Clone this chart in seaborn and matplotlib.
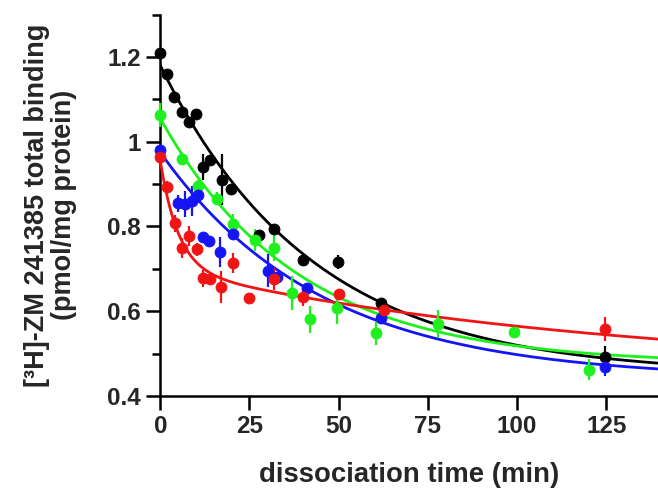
import numpy as np
import pandas as pd
import matplotlib
matplotlib.use("Agg")
import matplotlib.pyplot as plt
import seaborn as sns
from matplotlib.ticker import FixedLocator

# ---- data ----
black_t = [0, 1.8, 3.8, 6, 8, 10.1, 11.9, 13.8, 17.2, 19.8, 27.6, 31.9, 40, 49.8, 61.8, 124.6]
black_y = [1.209, 1.159, 1.106, 1.071, 1.047, 1.065, 0.94, 0.958, 0.91, 0.888, 0.78, 0.795, 0.722, 0.716, 0.62, 0.492]
black_e = [0.01, 0.01, 0.01, 0.01, 0.01, 0.01, 0.03, 0.01, 0.06, 0.01, 0.01, 0.01, 0.01, 0.016, 0.01, 0.027]

green_t = [0, 6, 10.5, 16, 20.3, 26.6, 32, 36.8, 42.1, 49.6, 60.4, 77.8, 99, 120.2]
green_y = [1.063, 0.959, 0.895, 0.866, 0.805, 0.767, 0.749, 0.643, 0.581, 0.607, 0.549, 0.57, 0.551, 0.462]
green_e = [0.028, 0.01, 0.015, 0.015, 0.025, 0.026, 0.03, 0.04, 0.032, 0.037, 0.028, 0.033, 0.01, 0.025]

blue_t = [0, 5, 7, 9, 10.5, 11.9, 13.6, 16.7, 20.3, 30.3, 32.6, 41, 61.8, 124.6]
blue_y = [0.98, 0.855, 0.853, 0.86, 0.875, 0.775, 0.766, 0.74, 0.783, 0.696, 0.681, 0.654, 0.584, 0.468]
blue_e = [0.01, 0.02, 0.03, 0.035, 0.02, 0.01, 0.01, 0.035, 0.016, 0.04, 0.01, 0.01, 0.015, 0.02]

red_t = [0, 2, 4, 6, 8, 10.2, 12, 14, 16.9, 20.3, 25, 32, 40, 50, 62.6, 124.6]
red_y = [0.965, 0.893, 0.808, 0.749, 0.778, 0.746, 0.678, 0.676, 0.657, 0.714, 0.632, 0.675, 0.633, 0.641, 0.603, 0.558]
red_e = [0.01, 0.015, 0.02, 0.023, 0.023, 0.015, 0.02, 0.01, 0.038, 0.024, 0.0, 0.026, 0.02, 0.01, 0.01, 0.028]

# fitted decay parameters: plateau, fast amplitude, fast rate, slow amplitude, slow rate
black_fit = [0.45, 0.0, 0.0, 0.73, 0.0235]
green_fit = [0.475, 0.0, 0.0, 0.58, 0.026]
blue_fit = [0.44, 0.0, 0.0, 0.535, 0.0223]
red_fit = [0.45, 0.255, 0.198, 0.25, 0.0078]

x_ticks = [0, 25, 50, 75, 100, 125]
y_ticks = [0.4, 0.6, 0.8, 1.0, 1.2]
y_tick_labels = ["0.4", "0.6", "0.8", "1", "1.2"]
y_minor = [0.5, 0.7, 0.9, 1.1, 1.3]

series = [
    ("black", black_t, black_y, black_e, black_fit, "#000000"),
    ("green", green_t, green_y, green_e, green_fit, "#1ef01e"),
    ("blue", blue_t, blue_y, blue_e, blue_fit, "#1414f5"),
    ("red", red_t, red_y, red_e, red_fit, "#f01414"),
]

sns.set_style("ticks")
plt.rcParams['font.family'] = ['Liberation Sans', 'DejaVu Sans']
plt.rcParams['font.weight'] = 'bold'

fig = plt.figure(figsize=(6.58, 4.93), dpi=100)
ax = fig.add_axes([0.2436, 0.1968, 1 - 0.2436, 0.9704 - 0.1968])

t_fit = np.linspace(0, 140, 400)
for name, t, y, e, p, c in series:
    yf = p[0] + p[1] * np.exp(-p[2] * t_fit) + p[3] * np.exp(-p[4] * t_fit)
    sns.lineplot(x=t_fit, y=yf, color=c, lw=2.0, ax=ax, zorder=3)
    ax.errorbar(t, y, yerr=e, fmt='none', ecolor=c, elinewidth=1.6, capsize=0, zorder=4, clip_on=False)
    df = pd.DataFrame({"t": t, "y": y})
    sns.scatterplot(data=df, x="t", y="y", color=c, edgecolor=c, s=62, ax=ax, zorder=5, clip_on=False)

ax.set_xlim(0, 139.5)
ax.set_ylim(0.4, 1.3)
ax.set_xticks(x_ticks)
ax.set_xticklabels([str(v) for v in x_ticks])
ax.set_yticks(y_ticks)
ax.set_yticklabels(y_tick_labels)
ax.yaxis.set_minor_locator(FixedLocator(y_minor))

for s in ["top", "right"]:
    ax.spines[s].set_visible(False)
for s in ["left", "bottom"]:
    ax.spines[s].set_linewidth(1.8)
    ax.spines[s].set_color("black")

ax.tick_params(axis='both', which='major', direction='out', length=10, width=1.8, color='black',
               labelsize=17.5, pad=4)
ax.tick_params(axis='y', which='minor', direction='out', length=6, width=1.8, color='black')
for lab in ax.get_xticklabels() + ax.get_yticklabels():
    lab.set_fontweight('bold')

ax.set_xlabel("dissociation time (min)", fontsize=19.8, fontweight='bold', labelpad=17)
ax.set_ylabel("[³H]-ZM 241385 total binding\n(pmol/mg protein)", fontsize=19.5, fontweight='bold',
              labelpad=22, linespacing=1.05)

fig.savefig("out.png", dpi=100)
